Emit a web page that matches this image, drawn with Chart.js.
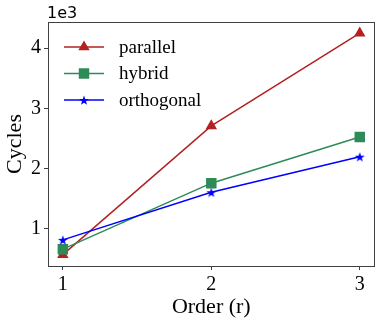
<!DOCTYPE html>
<html>
<head>
<meta charset="utf-8">
<script src="https://cdn.jsdelivr.net/npm/chart.js@4"></script>
<style>
  html, body { margin: 0; padding: 0; background: #fff; }
  #wrap { width: 382px; height: 323px; position: relative; }
</style>
</head>
<body>
<div id="wrap"><canvas id="cyclesChart"></canvas></div>
<script>
// data (values in thousands of cycles)
const orders = [1, 2, 3];
const parallel = [0.574, 2.71, 4.25];
const hybrid = [0.665, 1.76, 2.525];
const orthogonal = [0.82, 1.61, 2.2];
const xTicks = [1, 2, 3];
const yTicks = [1, 2, 3, 4];

const SERIF = '"Liberation Serif", "Times New Roman", serif';
const RED = '#b22222', GREEN = '#2e8b57', BLUE = '#0000ff';

function starPath(c, cx, cy, R){
  const r = R * 0.4;
  c.beginPath();
  for(let i = 0; i < 10; i++){
    const rad = (i % 2 === 0) ? R : r;
    const a = -Math.PI / 2 + i * Math.PI / 5;
    const px = cx + rad * Math.cos(a), py = cy + rad * Math.sin(a);
    if(i === 0) c.moveTo(px, py); else c.lineTo(px, py);
  }
  c.closePath();
}

// filled star marker (Chart.js 'star' is only an outline cross)
const starImg = document.createElement('canvas');
starImg.width = 14; starImg.height = 14;
(() => {
  const c = starImg.getContext('2d');
  starPath(c, 7, 7.6, 5.2);
  c.fillStyle = BLUE;
  c.fill();
})();

const toPts = ys => ys.map((y, i) => ({x: orders[i], y}));

const series = [
  {label: 'parallel', data: parallel, color: RED, style: 'triangle', radius: 6.6, order: 3},
  {label: 'hybrid', data: hybrid, color: GREEN, style: 'rect', radius: 7.4, order: 2},
  {label: 'orthogonal', data: orthogonal, color: BLUE, style: starImg, radius: 5, order: 1}
];

const framePlugin = {
  id: 'frame',
  afterDraw(chart){
    const {ctx, chartArea: a} = chart;
    ctx.save();
    ctx.strokeStyle = '#404040';
    ctx.lineWidth = 1;
    ctx.strokeRect(Math.round(a.left) + 0.5, Math.round(a.top) + 0.5,
      Math.round(a.right - a.left) - 1, Math.round(a.bottom - a.top));

    // offset text
    ctx.fillStyle = '#000';
    ctx.font = '16px "DejaVu Sans", sans-serif';
    ctx.textBaseline = 'alphabetic';
    ctx.textAlign = 'left';
    ctx.fillText('1e3', 47, 18);

    // legend
    ctx.font = '19px ' + SERIF;
    ctx.textBaseline = 'middle';
    const ys = [47, 73.5, 100];
    series.forEach((s, i) => {
      const y = ys[i];
      ctx.strokeStyle = s.color;
      ctx.lineWidth = 1.5;
      ctx.beginPath();
      ctx.moveTo(64, y); ctx.lineTo(104, y);
      ctx.stroke();
      ctx.fillStyle = s.color;
      if(s.style === 'triangle'){
        const r = s.radius;
        ctx.beginPath();
        ctx.moveTo(84, y - r);
        ctx.lineTo(84 + r * 0.866, y + r * 0.5);
        ctx.lineTo(84 - r * 0.866, y + r * 0.5);
        ctx.closePath();
        ctx.fill();
      } else if(s.style === 'rect'){
        const h = s.radius / Math.SQRT2;
        ctx.fillRect(84 - h, y - h, 2 * h, 2 * h);
      } else {
        starPath(ctx, 84, y + 0.6, 5.2);
        ctx.fill();
      }
      ctx.fillStyle = '#000';
      ctx.fillText(s.label, 119, y + 1);
    });
    ctx.restore();
  }
};

const ctx = document.getElementById('cyclesChart').getContext('2d');

new Chart(ctx, {
  type: 'line',
  data: {
    datasets: series.map(s => ({
      label: s.label,
      data: toPts(s.data),
      borderColor: s.color,
      backgroundColor: s.color,
      borderWidth: 1.5,
      pointStyle: s.style,
      pointRadius: s.radius,
      pointHoverRadius: s.radius,
      pointBorderWidth: 0,
      order: s.order,
      tension: 0
    }))
  },
  options: {
    responsive: true,
    maintainAspectRatio: false,
    animation: false,
    events: [],
    layout: { padding: { top: 22, right: 6, left: 0, bottom: 0 } },
    plugins: {
      legend: { display: false },
      tooltip: { enabled: false }
    },
    scales: {
      x: {
        type: 'linear',
        min: 0.9,
        max: 3.1,
        afterBuildTicks: axis => { axis.ticks = xTicks.map(v => ({value: v})); },
        afterFit: axis => { axis.height = 57; },
        border: { display: false },
        grid: { drawOnChartArea: false, drawTicks: true, tickLength: 4, color: '#404040', tickWidth: 1 },
        ticks: { color: '#000', font: { family: SERIF, size: 20 }, padding: 3, maxRotation: 0,
          callback: v => String(v) },
        title: { display: true, text: 'Order (r)', color: '#000', font: { family: SERIF, size: 22 },
          padding: { top: 0, bottom: 3 } }
      },
      y: {
        type: 'linear',
        min: 0.386,
        max: 4.434,
        afterBuildTicks: axis => { axis.ticks = yTicks.map(v => ({value: v})); },
        afterFit: axis => { axis.width = 48; },
        border: { display: false },
        grid: { drawOnChartArea: false, drawTicks: true, tickLength: 4, color: '#404040', tickWidth: 1 },
        ticks: { color: '#000', font: { family: SERIF, size: 20 }, padding: 3,
          callback: v => String(v) },
        title: { display: true, text: 'Cycles', color: '#000', font: { family: SERIF, size: 22 },
          padding: { top: 2, bottom: 0 } }
      }
    }
  },
  plugins: [framePlugin]
});
</script>
</body>
</html>
